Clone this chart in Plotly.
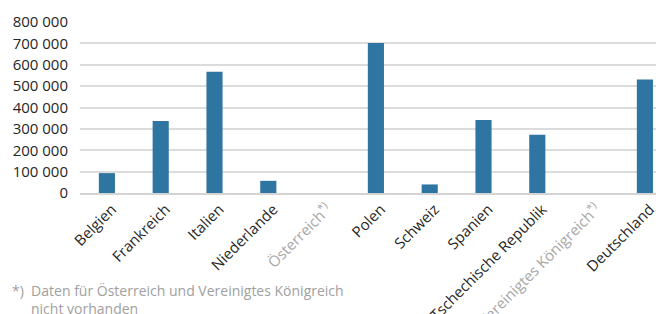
import plotly.graph_objects as go

categories = ["Belgien", "Frankreich", "Italien", "Niederlande", "Österreich", "Polen",
              "Schweiz", "Spanien", "Tschechische Republik", "Vereinigtes Königreich", "Deutschland"]
values = [93000, 337000, 567000, 57000, None, 702000, 40000, 342000, 272000, None, 531000]
footnoted = ["Österreich", "Vereinigtes Königreich"]
y_tickvals = [0, 100000, 200000, 300000, 400000, 500000, 600000, 700000, 800000]
y_ticktext = ["0", "100 000", "200 000", "300 000", "400 000", "500 000", "600 000", "700 000", "800 000"]
footnote_lines = ["*)&nbsp;&nbsp;Daten für Österreich und Vereinigtes Königreich", "nicht vorhanden"]

# page body has an 8px margin; lay out in figure coordinates (picture - 8)
OFF = 8
W, H = 664 - OFF, 314 - OFF
ML, MR, MT = 80 - OFF, 0, 22 - OFF
zero_pix = 193.5 - OFF
MB = H - zero_pix
plot_w = W - ML - MR
plot_h = H - MT - MB

ticktext = []
for c in categories:
    if c in footnoted:
        ticktext.append(f'<span style="color:#a6a6a6">{c}<sup>*)</sup></span>')
    else:
        ticktext.append(c)

fig = go.Figure(go.Bar(
    x=list(range(len(categories))), y=values,
    marker=dict(color="#2E76A1", line=dict(width=0)),
    width=0.3,
))

font = "Open Sans, Noto Sans, sans-serif"
fig.update_layout(
    width=W, height=H,
    margin=dict(l=ML, r=MR, t=MT, b=MB, autoexpand=False),
    paper_bgcolor="white", plot_bgcolor="white",
    showlegend=False,
    font=dict(family=font, size=15, color="#262626"),
    xaxis=dict(
        tickmode="array", tickvals=list(range(len(categories))), ticktext=ticktext,
        tickangle=-45, range=[-0.5, 10.355], showgrid=False, zeroline=False,
        showline=True, linecolor="#d4d4d4", linewidth=1.5, ticks="",
        ticklabelshift=5,
        tickfont=dict(size=15, color="#262626"), automargin=False,
    ),
    yaxis=dict(
        range=[0, 800000], tickvals=y_tickvals, ticktext=y_ticktext,
        showgrid=True, gridcolor="#dcdcdc", gridwidth=1.5, zeroline=False,
        showline=False, ticks="", ticklabelstandoff=11,
        tickfont=dict(size=15, color="#262626"), automargin=False,
    ),
)

def py(pix):
    return (MT + plot_h - (pix - OFF)) / plot_h

def px(pix):
    return (pix - OFF - ML) / plot_w

fig.add_annotation(text=footnote_lines[0], xref="paper", yref="paper", x=px(10), y=py(291),
                   xanchor="left", yanchor="middle", showarrow=False,
                   font=dict(size=14, color="#a0a0a0"))
fig.add_annotation(text=footnote_lines[1], xref="paper", yref="paper", x=px(29), y=py(309),
                   xanchor="left", yanchor="middle", showarrow=False,
                   font=dict(size=14, color="#a0a0a0"))

fig.write_html("out.html")
